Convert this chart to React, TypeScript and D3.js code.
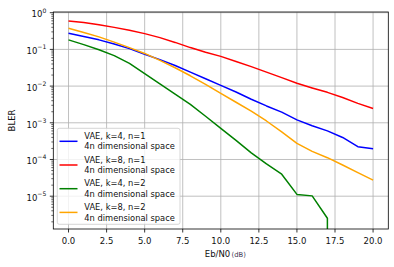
import React, { useEffect, useRef } from 'react';
import * as d3 from 'd3';

// Eb/N0 in dB and the block error rate of each VAE setup
const ebn0 = [0, 1, 2, 3, 4, 5, 6, 7, 8, 9, 10, 11, 12, 13, 14, 15, 16, 17, 18, 19, 20];
const blerK4N1 = [0.275, 0.224, 0.182, 0.141, 0.105, 0.0741, 0.0525, 0.0363, 0.024, 0.0158, 0.0105, 0.00692, 0.00437, 0.00288, 0.00195, 0.0012, 0.000832, 0.000603, 0.000398, 0.000224, 0.000195];
const blerK8N1 = [0.594, 0.537, 0.468, 0.398, 0.331, 0.269, 0.209, 0.155, 0.112, 0.0832, 0.0646, 0.0468, 0.0339, 0.024, 0.017, 0.012, 0.00891, 0.00676, 0.0049, 0.00339, 0.00245];
const blerK4N2 = [0.182, 0.135, 0.0977, 0.0676, 0.0417, 0.0219, 0.0115, 0.00603, 0.00316, 0.00151, 0.000708, 0.000331, 0.000151, 0.0000759, 0.0000398, 0.0000112, 0.0000102, 0.0000025, 0, 0, 0];
const blerK8N2 = [0.376, 0.288, 0.219, 0.158, 0.112, 0.0776, 0.0501, 0.0316, 0.0191, 0.0112, 0.00631, 0.00363, 0.00209, 0.00112, 0.000562, 0.000275, 0.000166, 0.000112, 0.0000708, 0.0000437, 0.0000275];

const seriesNames = ['VAE, k=4, n=1', 'VAE, k=8, n=1', 'VAE, k=4, n=2', 'VAE, k=8, n=2'];
const seriesSub = '4n dimensional space';
const seriesColors = ['blue', 'red', 'green', 'orange'];
const xTicks = [0, 2.5, 5, 7.5, 10, 12.5, 15, 17.5, 20];
const yTickExps = [0, -1, -2, -3, -4, -5];

const FONT = 'DejaVu Sans, sans-serif';
const FS = 8.5;

const BlerChart: React.FC = () => {
  const svgRef = useRef<SVGSVGElement>(null);

  useEffect(() => {
    if (!svgRef.current) return;
    const svg = d3.select(svgRef.current);
    svg.selectAll('*').remove();

    const left = 53.3, right = 388.3, top = 12, bottom = 229;

    const x = d3.scaleLinear().domain([-1, 21]).range([left, right]);
    const y = d3.scaleLog()
      .domain([Math.pow(10, -5.894), Math.pow(10, 0.019)])
      .range([bottom, top]);

    svg.append('defs').append('clipPath').attr('id', 'plot-clip')
      .append('rect')
      .attr('x', left).attr('y', top)
      .attr('width', right - left).attr('height', bottom - top);

    // grid
    const grid = svg.append('g').attr('stroke', '#b0b0b0').attr('stroke-width', 0.8);
    xTicks.forEach(t => {
      grid.append('line').attr('x1', x(t)).attr('x2', x(t)).attr('y1', top).attr('y2', bottom);
    });
    yTickExps.forEach(e => {
      const yy = y(Math.pow(10, e));
      grid.append('line').attr('x1', left).attr('x2', right).attr('y1', yy).attr('y2', yy);
    });

    // lines (zeros clipped like matplotlib does on log axes)
    const allSeries = [blerK4N1, blerK8N1, blerK4N2, blerK8N2];
    const line = d3.line<number>()
      .x((d, i) => x(ebn0[i]))
      .y(d => y(d > 0 ? d : 1e-300));

    const plot = svg.append('g').attr('clip-path', 'url(#plot-clip)');
    allSeries.forEach((s, k) => {
      plot.append('path')
        .datum(s)
        .attr('fill', 'none')
        .attr('stroke', seriesColors[k])
        .attr('stroke-width', 1.5)
        .attr('stroke-linejoin', 'round')
        .attr('d', line);
    });

    // frame
    svg.append('rect')
      .attr('x', left).attr('y', top)
      .attr('width', right - left).attr('height', bottom - top)
      .attr('fill', 'none').attr('stroke', 'black').attr('stroke-width', 0.8);

    // x ticks
    const xAxis = svg.append('g');
    xTicks.forEach(t => {
      xAxis.append('line')
        .attr('x1', x(t)).attr('x2', x(t)).attr('y1', bottom).attr('y2', bottom + 3.5)
        .attr('stroke', 'black').attr('stroke-width', 0.8);
      xAxis.append('text')
        .attr('x', x(t)).attr('y', bottom + 15.2)
        .attr('text-anchor', 'middle')
        .attr('font-family', FONT).attr('font-size', FS).attr('fill', '#111')
        .text(t.toFixed(1));
    });

    // y ticks, major + minor
    const yAxis = svg.append('g');
    const [dMin, dMax] = y.domain();
    for (let e = -6; e <= 0; e++) {
      for (let m = 2; m <= 9; m++) {
        const v = m * Math.pow(10, e);
        if (v < dMin || v > dMax) continue;
        yAxis.append('line')
          .attr('x1', left - 2).attr('x2', left).attr('y1', y(v)).attr('y2', y(v))
          .attr('stroke', 'black').attr('stroke-width', 0.6);
      }
    }
    yTickExps.forEach(e => {
      const yy = y(Math.pow(10, e));
      yAxis.append('line')
        .attr('x1', left - 3.5).attr('x2', left).attr('y1', yy).attr('y2', yy)
        .attr('stroke', 'black').attr('stroke-width', 0.8);
      const txt = yAxis.append('text')
        .attr('x', left - 7).attr('y', yy + 4.8)
        .attr('text-anchor', 'end')
        .attr('font-family', FONT).attr('font-size', FS).attr('fill', '#111');
      txt.append('tspan').text('10');
      txt.append('tspan')
        .attr('dy', -4.8).attr('font-size', 6.1)
        .text(e === 0 ? '0' : '\u2212' + Math.abs(e));
    });

    // axis labels
    svg.append('text')
      .attr('transform', `translate(14.8, ${(top + bottom) / 2}) rotate(-90)`)
      .attr('text-anchor', 'middle')
      .attr('font-family', FONT).attr('font-size', FS).attr('fill', '#111')
      .text('BLER');

    svg.append('text')
      .attr('x', 217.5).attr('y', 256.8)
      .attr('text-anchor', 'middle')
      .attr('font-family', FONT).attr('font-size', FS).attr('fill', '#111')
      .text('Eb/N0');
    svg.append('text')
      .attr('x', 231.5).attr('y', 256.5)
      .attr('font-family', FONT).attr('font-size', 6.8).attr('fill', '#3a3450')
      .text('(dB)');

    // legend
    const lg = svg.append('g');
    lg.append('rect')
      .attr('x', 57.3).attr('y', 128.3)
      .attr('width', 122.7).attr('height', 96)
      .attr('rx', 2).attr('ry', 2)
      .attr('fill', 'white').attr('fill-opacity', 0.8)
      .attr('stroke', '#cccccc').attr('stroke-width', 0.8);
    seriesNames.forEach((name, k) => {
      const y0 = 135.7 + k * 23.7;
      lg.append('line')
        .attr('x1', 59.5).attr('x2', 77.5)
        .attr('y1', y0 + 5.6).attr('y2', y0 + 5.6)
        .attr('stroke', seriesColors[k]).attr('stroke-width', 1.5);
      lg.append('text')
        .attr('x', 84.3).attr('y', y0 + 3.2)
        .attr('font-family', FONT).attr('font-size', 8.3).attr('fill', '#111')
        .text(name);
      lg.append('text')
        .attr('x', 84.3).attr('y', y0 + 13.7)
        .attr('font-family', FONT).attr('font-size', 8.3).attr('fill', '#111')
        .text(seriesSub);
    });
  }, []);

  return (
    <svg
      ref={svgRef}
      width={394}
      height={267}
      style={{ position: 'absolute', left: 0, top: 0, background: 'white' }}
    />
  );
};

export default function App() {
  return <BlerChart />;
}
